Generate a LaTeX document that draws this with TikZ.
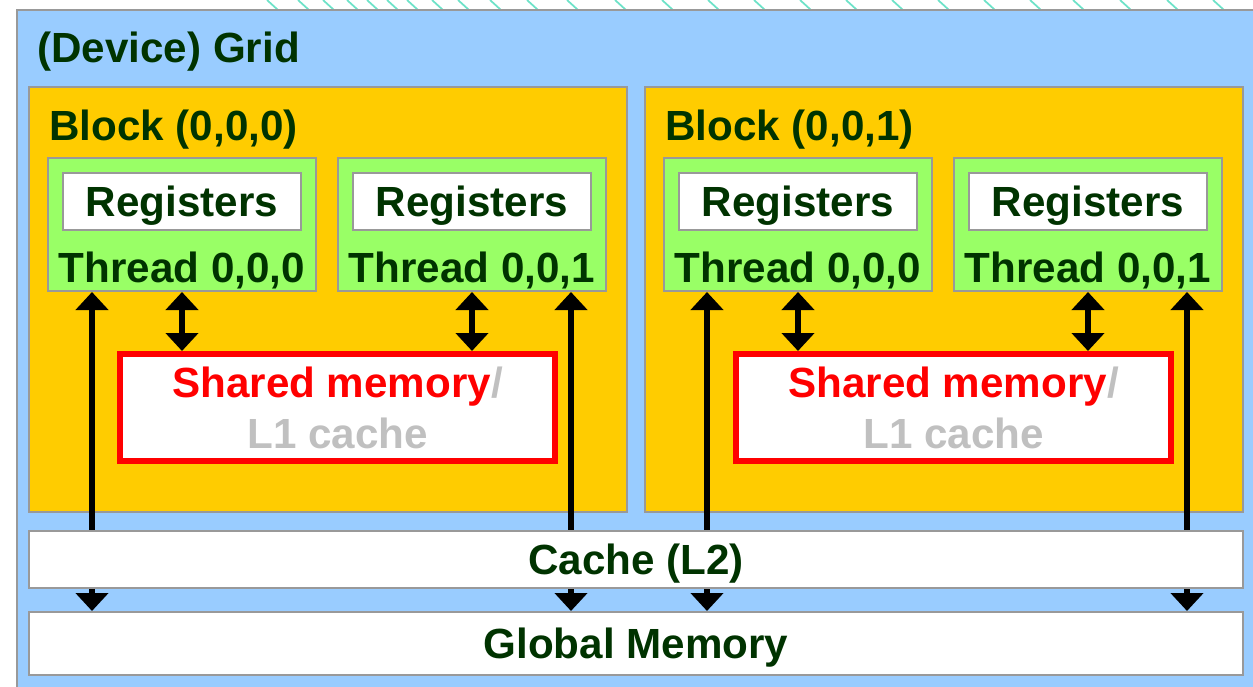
\documentclass[tikz,border=0pt]{standalone}
\usepackage{fontspec}
\setmainfont{Liberation Sans}
\usetikzlibrary{arrows.meta}
\definecolor{gridblue}{RGB}{153,204,255}
\definecolor{blockyellow}{RGB}{255,204,0}
\definecolor{threadgreen}{RGB}{153,255,102}
\definecolor{bordergray}{RGB}{153,153,153}
\definecolor{textgreen}{RGB}{0,51,0}
\definecolor{lonegray}{RGB}{192,192,192}
\definecolor{hatchteal}{RGB}{110,226,200}

\begin{document}
\begin{tikzpicture}[x=0.2mm, y=-0.2mm, >={Triangle[width=6.4mm,length=3.6mm]},
	every node/.style={font=\bfseries\fontsize{24}{29}\selectfont, text=textgreen, inner sep=0pt},
	boxline/.style={draw=bordergray, line width=0.4mm},
	capcenter/.style={text height=17.2pt, text depth=0pt},
	blockbox/.style={boxline, fill=blockyellow, minimum width=119.6mm, minimum height=85mm},
	threadbox/.style={boxline, fill=threadgreen, minimum width=53.6mm, minimum height=26.6mm},
	regbox/.style={boxline, capcenter, fill=white, minimum width=47.6mm, minimum height=11.4mm},
	shmbox/.style={draw=red, line width=1.2mm, fill=white, minimum width=87mm, minimum height=21.4mm, align=center},
	membox/.style={boxline, capcenter, fill=white, minimum width=242.8mm},
	link/.style={<->, line width=1.1mm}]
			\clip (0,0) rectangle (1253,686);
			% Background hatching above the grid
			\foreach \x in {267,298,323,347,367,387,407,432,458,490,527,567,615,662,708,754,800,846,892,938,984,1030,1073,1120,1167,1213}
				\draw[hatchteal, line width=0.35mm] (\x,0) -- ++(11,10);
			
			% Draw the device grid
			\draw[boxline, fill=gridblue] (17,10) rectangle (1280,700);
			\node[anchor=base west] (gridlabel) at (37,62) {(Device) Grid};
			
			% Draw the blocks
			\node[blockbox] (blk1) at (328,299.5) {};
			\node[blockbox] (blk2) at (944,299.5) {};
			\node[anchor=base west] (blklabel1) at ([xshift=4.2mm,yshift=-10.8mm]blk1.north west) {Block (0,0,0)};
			\node[anchor=base west] (blklabel2) at ([xshift=4.2mm,yshift=-10.8mm]blk2.north west) {Block (0,0,1)};
			
			% Threads with their registers
			\foreach \i/\x/\t in {1/182/0, 2/472/1, 3/798/0, 4/1088/1} {
				\node[threadbox] (t\i) at (\x,224.5) {};
				\node[regbox] (reg\i) at (\x,201.5) {Registers};
				\node[anchor=base] (tlabel\i) at ([yshift=2mm]t\i.south) {Thread 0,0,\t};
			}
			
			% Shared memory of each block
			\foreach \i/\x in {1/337.5, 2/953.5}
				\node[shmbox] (shm\i) at (\x,407.5) {\textcolor{red}{Shared memory}\textcolor{lonegray}{/}\\\textcolor{lonegray}{L1 cache}};
			
			% Global memory
			\node[membox, minimum height=12.6mm] (gmem) at (636,643.5) {Global Memory};
			
			% Thread <-> shared memory
			\foreach \i/\j in {1/1, 2/1, 3/2, 4/2}
				\draw[link] (t\i.south) -- (t\i.south |- shm\j.north);
			
			% Thread <-> global memory, passing behind the L2 cache
			\coordinate (up1) at ([xshift=9mm]t1.south west);
			\coordinate (up2) at ([xshift=-7.2mm]t2.south east);
			\coordinate (up3) at ([xshift=8.8mm]t3.south west);
			\coordinate (up4) at ([xshift=-7.2mm]t4.south east);
			\foreach \i in {1,...,4}
				\draw[link] (up\i) -- (up\i |- gmem.north);
			
			% L2 cache on top of the long arrows
			\node[membox, minimum height=11.4mm] (cache) at (636,559.5) {Cache (L2)};
\end{tikzpicture}
\end{document}
